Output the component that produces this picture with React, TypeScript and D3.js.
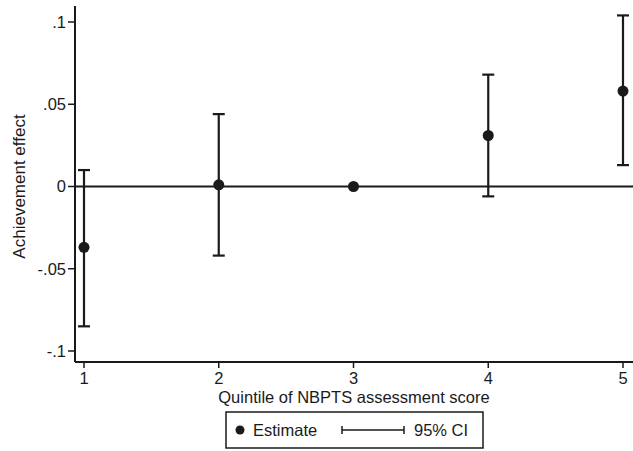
import React from "react";
import * as d3 from "d3";

const quintiles = [1, 2, 3, 4, 5];
const estimates = [-0.037, 0.001, 0.0, 0.031, 0.058];
const ciLower = [-0.085, -0.042, null, -0.006, 0.013];
const ciUpper = [0.010, 0.044, null, 0.068, 0.104];
const yTicks = [-0.1, -0.05, 0, 0.05, 0.1];
const yTickLabels = ["-.1", "-.05", "0", ".05", ".1"];
const xTicks = [1, 2, 3, 4, 5];

const W = 633;
const H = 451;
const FONT = "Liberation Sans, Arial, Helvetica, sans-serif";
const INK = "#1a1a1a";
const FS = 16.5;

export default function App() {
  const x = d3.scaleLinear().domain([1, 5]).range([84, 623]);
  const y = d3.scaleLinear().domain([-0.1, 0.1]).range([351, 22]);
  const axisX = 75;
  const axisY = 362;
  const cap = 6;

  return (
    <svg width={W} height={H} style={{ position: "absolute", left: 0, top: 0, background: "#fff" }}>
      <rect x={0} y={0} width={W} height={H} fill="#fff" />
      {/* y axis */}
      <line x1={axisX} x2={axisX} y1={6} y2={axisY} stroke={INK} strokeWidth={2} />
      {yTicks.map((t, i) => (
        <g key={"yt" + i}>
          <line x1={axisX - 7} x2={axisX} y1={y(t)} y2={y(t)} stroke={INK} strokeWidth={1.5} />
          <text x={axisX - 9} y={y(t)} dy="0.35em" textAnchor="end" fontFamily={FONT} fontSize={FS} fill={INK}>
            {yTickLabels[i]}
          </text>
        </g>
      ))}
      <text
        transform={`translate(${19},${y(0)}) rotate(-90)`}
        textAnchor="middle"
        dy="0.35em"
        fontFamily={FONT}
        fontSize={17}
        fill={INK}
      >
        Achievement effect
      </text>
      {/* x axis */}
      <line x1={axisX} x2={W} y1={axisY} y2={axisY} stroke={INK} strokeWidth={2} />
      {xTicks.map((t) => (
        <g key={"xt" + t}>
          <line x1={x(t)} x2={x(t)} y1={axisY} y2={axisY + 6} stroke={INK} strokeWidth={1.5} />
          <text x={x(t)} y={axisY + 22} textAnchor="middle" fontFamily={FONT} fontSize={FS} fill={INK}>
            {t}
          </text>
        </g>
      ))}
      <text x={354} y={403} textAnchor="middle" fontFamily={FONT} fontSize={FS} fill={INK}>
        Quintile of NBPTS assessment score
      </text>
      {/* zero line */}
      <line x1={axisX} x2={W} y1={y(0)} y2={y(0)} stroke={INK} strokeWidth={2} />
      {/* CIs */}
      {quintiles.map((q, i) =>
        ciLower[i] === null || ciUpper[i] === null ? null : (
          <g key={"ci" + q} stroke={INK} strokeWidth={2.2}>
            <line x1={x(q)} x2={x(q)} y1={y(ciLower[i] as number)} y2={y(ciUpper[i] as number)} />
            <line x1={x(q) - cap} x2={x(q) + cap} y1={y(ciLower[i] as number)} y2={y(ciLower[i] as number)} />
            <line x1={x(q) - cap} x2={x(q) + cap} y1={y(ciUpper[i] as number)} y2={y(ciUpper[i] as number)} />
          </g>
        )
      )}
      {quintiles.map((q, i) => (
        <circle key={"pt" + q} cx={x(q)} cy={y(estimates[i])} r={5.5} fill={INK} />
      ))}
      {/* legend */}
      <rect x={226} y={412} width={257} height={36} fill="#fff" stroke={INK} strokeWidth={1.5} />
      <circle cx={240} cy={430} r={4.5} fill={INK} />
      <text x={253} y={430} dy="0.35em" fontFamily={FONT} fontSize={FS} fill={INK}>
        Estimate
      </text>
      <g stroke={INK} strokeWidth={1.5}>
        <line x1={342} x2={404} y1={430} y2={430} />
        <line x1={342} x2={342} y1={426} y2={434} />
        <line x1={404} x2={404} y1={426} y2={434} />
      </g>
      <text x={414} y={430} dy="0.35em" fontFamily={FONT} fontSize={FS} fill={INK}>
        95% CI
      </text>
    </svg>
  );
}
